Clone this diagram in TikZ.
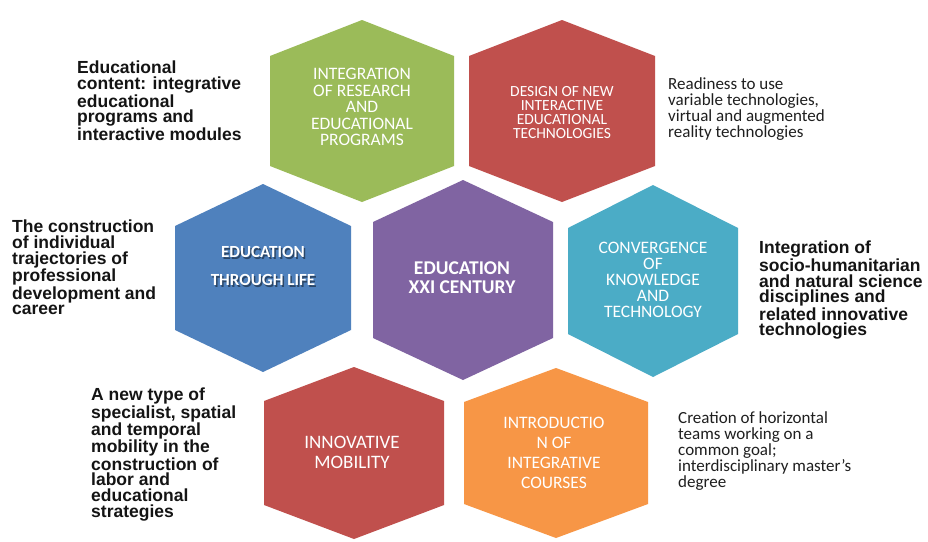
\documentclass[tikz,border=0pt]{standalone}
\usepackage{fontspec}
\setmainfont{Carlito}
\newfontfamily\notefont{Liberation Sans}

\definecolor{eduGreen}{HTML}{9BBB59}
\definecolor{eduRed}{HTML}{C0504D}
\definecolor{eduBlue}{HTML}{4F81BD}
\definecolor{eduPurple}{HTML}{8064A2}
\definecolor{eduCyan}{HTML}{4BACC6}
\definecolor{eduOrange}{HTML}{F79646}

\newcommand\hexlabelsize[2]{\fontsize{#1}{#2}\selectfont}
% centre x, centre y, half width, half height, shoulder drop, colour
\newcommand\eduhex[6]{
  \fill[#6] (#1, #2 - #4) -- (#1 + #3, #2 - #4 + #5) -- (#1 + #3, #2 + #4 - #5)
    -- (#1, #2 + #4) -- (#1 - #3, #2 + #4 - #5) -- (#1 - #3, #2 - #4 + #5) -- cycle ;
}

\tikzset{
  hexlabel/.style={text=white, align=center, inner sep=0pt},
  sidenote/.style={anchor=north west, align=left, inner sep=0pt, text=black!92,
    font=\notefont\bfseries\fontsize{17.5}{15.8}\selectfont},
  readnote/.style={anchor=north west, align=left, inner sep=0pt, text=black!88,
    font=\fontsize{17}{16}\selectfont},
}

\begin{document}
\begin{tikzpicture}[x=1pt, y=-1pt]
  \useasboundingbox[fill=white] (0, 0) rectangle (928, 541) ;
  % hexagons, row by row
  \eduhex{362}{111}{92}{91}{36}{eduGreen}
  \eduhex{562}{111}{93}{91}{36}{eduRed}
  \eduhex{263}{278}{88}{94}{42}{eduBlue}
  \eduhex{463}{280}{90}{100}{42}{eduPurple}
  \eduhex{653}{281}{85}{96}{43}{eduCyan}
  \eduhex{354}{453}{90}{86}{34}{eduRed}
  \eduhex{556}{453}{92}{85}{34}{eduOrange}

  \node[hexlabel, font=\hexlabelsize{17.5}{16.5}] (research) at (362, 107) {INTEGRATION\\OF RESEARCH\\AND\\EDUCATIONAL\\PROGRAMS} ;
  \node[hexlabel, font=\hexlabelsize{15.5}{14}] (design) at (562, 113) {DESIGN OF NEW\\INTERACTIVE\\EDUCATIONAL\\TECHNOLOGIES} ;
  \node[hexlabel, text=black, opacity=.45, font=\bfseries\hexlabelsize{17}{28}] (lifeshadow) at (264.5, 267.5) {EDUCATION\\THROUGH LIFE} ;
  \node[hexlabel, font=\bfseries\hexlabelsize{17}{28}] (life) at (263, 266) {EDUCATION\\THROUGH LIFE} ;
  \node[hexlabel, font=\bfseries\hexlabelsize{19.5}{19}] (xxi) at (462, 278) {EDUCATION\\XXI CENTURY} ;
  \node[hexlabel, font=\hexlabelsize{17.5}{16}] (convergence) at (653, 280) {CONVERGENCE\\OF\\KNOWLEDGE\\AND\\TECHNOLOGY} ;
  \node[hexlabel, font=\hexlabelsize{19}{20}] (mobility) at (352, 452) {INNOVATIVE\\MOBILITY} ;
  \node[hexlabel, font=\hexlabelsize{17.5}{20}] (courses) at (554, 453) {INTRODUCTIO\\N OF\\INTEGRATIVE\\COURSES} ;

  % notes round the honeycomb
  \node[sidenote] (content) at (77, 61) {Educational\\content: integrative\\educational\\programs and\\interactive modules} ;
  \node[readnote] (readiness) at (668, 77) {Readiness to use\\variable technologies,\\virtual and augmented\\reality technologies} ;
  \node[sidenote] (trajectories) at (12, 220) {The construction\\of individual\\trajectories of\\professional\\development and\\career} ;
  \node[sidenote] (disciplines) at (759, 241) {Integration of\\socio-humanitarian\\and natural science\\disciplines and\\related innovative\\technologies} ;
  \node[sidenote] (specialist) at (91, 388) {A new type of\\specialist, spatial\\and temporal\\mobility in the\\construction of\\labor and\\educational\\strategies} ;
  \node[readnote] (teams) at (678, 411) {Creation of horizontal\\teams working on a\\common goal;\\interdisciplinary master's\\degree} ;
\end{tikzpicture}
\end{document}
